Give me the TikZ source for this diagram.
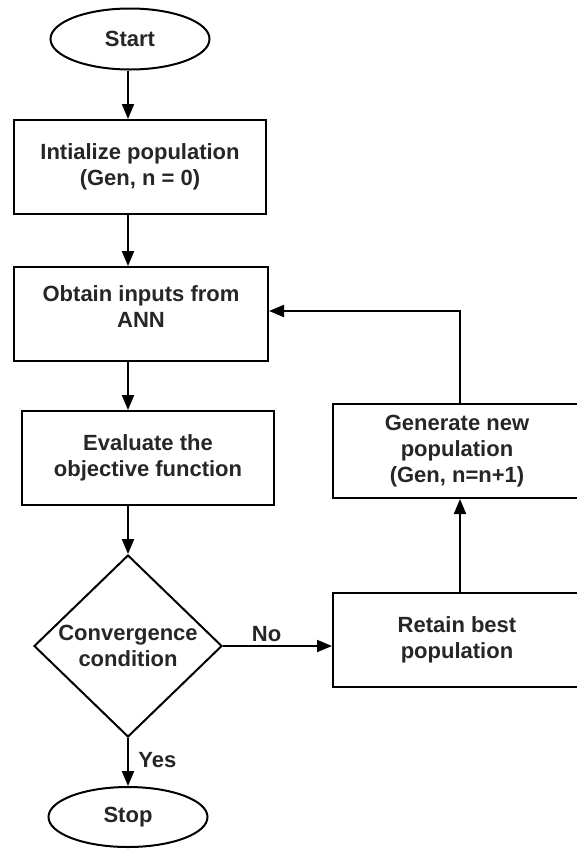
\documentclass[tikz,border=0pt]{standalone}
\usepackage{fontspec}
\setmainfont{Liberation Sans}
\usetikzlibrary{shapes.geometric,arrows.meta}
\begin{document}
\begin{tikzpicture}[x=1pt,y=-1pt,line width=2pt,
        every node/.style={font=\fontsize{22}{26}\selectfont\bfseries,text=black!85,align=center},
        box/.style={draw,rectangle,minimum width=252pt,minimum height=94pt,inner sep=0pt},
        term/.style={draw,ellipse,minimum width=159pt,minimum height=61pt,inner sep=0pt},
        test/.style={draw,diamond,minimum width=188pt,minimum height=182pt,inner sep=0pt},
        arr/.style={-{Triangle[width=12pt,length=15pt]}}]
    \useasboundingbox (0,0) rectangle (576,849);
    \node[term] (start) at (130,39) {Start};
    \node[box] (init) at (140,167) {Intialize population\\(Gen, n = 0)};
    \node[box,minimum width=254pt] (obtain) at (141,314) {Obtain inputs from\\ANN\vphantom{g}\\[-12pt]};
    \node[box] (eval) at (148,458) {Evaluate the\\objective function};
    \node[test] (conv) at (128,646) {Convergence\\condition};
    \node[term,minimum height=60pt] (stop) at (128,817) {Stop};
    \node[box,minimum width=248pt] (retain) at (457,640) {Retain best\\population};
    \node[box,minimum width=248pt] (gen) at (457,451) {Generate new\\population\\(Gen, n=n+1)};
    \coordinate (fb) at (460,311);
    \draw[arr] (start.south -| conv) -- (init.north -| conv);
    \draw[arr] (init.south -| conv) -- (obtain.north -| conv);
    \draw[arr] (obtain.south -| conv) -- (eval.north -| conv);
    \draw[arr] (eval.south -| conv) -- (conv.north);
    \draw[arr] (conv.east) -- node[above,pos=0.4] {No} (conv.east -| retain.west);
    \draw[arr] (conv.south) -- node[right,pos=0.45,xshift=6pt] {Yes} (stop.north);
    \draw[arr] (retain.north -| fb) -- (gen.south -| fb);
    \draw[arr] (gen.north -| fb) -- (fb) -- (obtain.east |- fb);
\end{tikzpicture}
\end{document}
